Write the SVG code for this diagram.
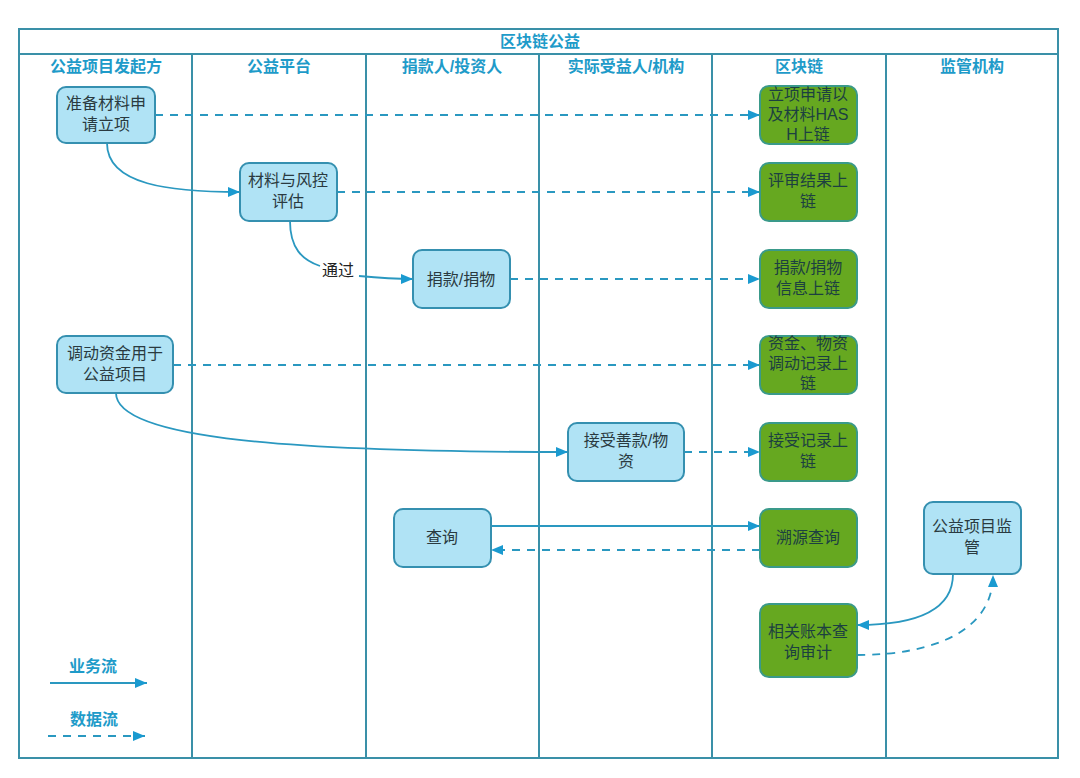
<svg xmlns="http://www.w3.org/2000/svg" width="1080" height="778" viewBox="0 0 1080 778">
<defs>
<style>
.frame{fill:none;stroke:#3a90a8;stroke-width:2}
.hdr{font-family:"Liberation Sans","Noto Sans CJK SC",sans-serif;font-size:16px;font-weight:bold;fill:#1e9bc9;text-anchor:middle}
.blue rect{fill:#b0e3f5;stroke:#3590b0;stroke-width:2}
.green rect{fill:#66a820;stroke:#3a9a8a;stroke-width:2}
.nt{font-family:"Liberation Sans","Noto Sans CJK SC",sans-serif;font-size:16px;text-anchor:middle}
.blue .nt{fill:#2a3a40}
.green .nt{fill:#1c4040}
.biz{fill:none;stroke:#2a98c0;stroke-width:1.8}
.data{fill:none;stroke:#2a98c0;stroke-width:1.8;stroke-dasharray:8,7}
.lbl{font-family:"Liberation Sans","Noto Sans CJK SC",sans-serif;font-size:16px;fill:#222;text-anchor:middle}
</style>
<marker id="ah" viewBox="0 0 12 10" refX="12" refY="5" markerWidth="12" markerHeight="10" markerUnits="userSpaceOnUse" orient="auto">
<path d="M0,0 L12,5 L0,10 z" fill="#1a9ad0"/>
</marker>
</defs>
<rect width="1080" height="778" fill="#ffffff"/>
<g id="lanes">
<rect class="frame" x="19" y="29" width="1039" height="729"/>
<line class="frame" x1="19" y1="54" x2="1058" y2="54"/>
<line class="frame" x1="192" y1="54" x2="192" y2="758"/>
<line class="frame" x1="366" y1="54" x2="366" y2="758"/>
<line class="frame" x1="539" y1="54" x2="539" y2="758"/>
<line class="frame" x1="712" y1="54" x2="712" y2="758"/>
<line class="frame" x1="886" y1="54" x2="886" y2="758"/>
<text class="hdr" x="540" y="47">区块链公益</text>
<text class="hdr" x="106" y="72">公益项目发起方</text>
<text class="hdr" x="279" y="72">公益平台</text>
<text class="hdr" x="452" y="72">捐款人/投资人</text>
<text class="hdr" x="626" y="72">实际受益人/机构</text>
<text class="hdr" x="799" y="72">区块链</text>
<text class="hdr" x="972" y="72">监管机构</text>
</g>
<g id="connectors">
<path class="data" d="M155,115 H760" marker-end="url(#ah)"/>
<path class="biz" d="M107,143 C107,185 170,192 240,192" marker-end="url(#ah)"/>
<path class="data" d="M337,192 H760" marker-end="url(#ah)"/>
<path class="biz" d="M290,221 C290,248 302,260 320,266"/>
<path class="biz" d="M359,276 C380,278 395,279 413,279" marker-end="url(#ah)"/>
<text class="lbl" x="338" y="276">通过</text>
<path class="data" d="M510,279 H760" marker-end="url(#ah)"/>
<path class="data" d="M173,365 H760" marker-end="url(#ah)"/>
<path class="biz" d="M116,393 C116,440 300,452 568,452" marker-end="url(#ah)"/>
<path class="data" d="M684,452 H760" marker-end="url(#ah)"/>
<path class="biz" d="M491,526 H760" marker-end="url(#ah)"/>
<path class="data" d="M760,550 H491" marker-end="url(#ah)"/>
<path class="biz" d="M953,574 C953,612 912,625 857,625" marker-end="url(#ah)"/>
<path class="data" d="M857,655 C935,655 993,630 993,575" marker-end="url(#ah)"/>
</g>
<g id="n_prepare" class="blue">
<rect x="57" y="87" width="98" height="56" rx="9"/>
<text class="nt" x="106" y="109">准备材料申</text>
<text class="nt" x="106" y="130">请立项</text>
</g>
<g id="n_review" class="blue">
<rect x="240" y="163" width="97" height="58" rx="9"/>
<text class="nt" x="288" y="186">材料与风控</text>
<text class="nt" x="288" y="207">评估</text>
</g>
<g id="n_donate" class="blue">
<rect x="413" y="250" width="97" height="58" rx="9"/>
<text class="nt" x="461" y="285">捐款/捐物</text>
</g>
<g id="n_allocate" class="blue">
<rect x="57" y="336" width="116" height="57" rx="9"/>
<text class="nt" x="115" y="359">调动资金用于</text>
<text class="nt" x="115" y="380">公益项目</text>
</g>
<g id="n_receive" class="blue">
<rect x="568" y="423" width="116" height="58" rx="9"/>
<text class="nt" x="626" y="446">接受善款/物</text>
<text class="nt" x="626" y="467">资</text>
</g>
<g id="n_query" class="blue">
<rect x="394" y="509" width="97" height="58" rx="9"/>
<text class="nt" x="442" y="543">查询</text>
</g>
<g id="n_supervise" class="blue">
<rect x="924" y="502" width="97" height="72" rx="9"/>
<text class="nt" x="972" y="532">公益项目监</text>
<text class="nt" x="972" y="553">管</text>
</g>
<g id="c_apply" class="green">
<rect x="760" y="86" width="97" height="58" rx="9"/>
<text class="nt" x="808" y="100">立项申请以</text>
<text class="nt" x="808" y="120">及材料HAS</text>
<text class="nt" x="808" y="140">H上链</text>
</g>
<g id="c_review" class="green">
<rect x="760" y="163" width="97" height="58" rx="9"/>
<text class="nt" x="808" y="186">评审结果上</text>
<text class="nt" x="808" y="207">链</text>
</g>
<g id="c_donate" class="green">
<rect x="760" y="250" width="97" height="58" rx="9"/>
<text class="nt" x="808" y="273">捐款/捐物</text>
<text class="nt" x="808" y="294">信息上链</text>
</g>
<g id="c_allocate" class="green">
<rect x="760" y="336" width="97" height="58" rx="9"/>
<text class="nt" x="808" y="349">资金、物资</text>
<text class="nt" x="808" y="369">调动记录上</text>
<text class="nt" x="808" y="389">链</text>
</g>
<g id="c_receive" class="green">
<rect x="760" y="423" width="97" height="58" rx="9"/>
<text class="nt" x="808" y="446">接受记录上</text>
<text class="nt" x="808" y="467">链</text>
</g>
<g id="c_trace" class="green">
<rect x="760" y="509" width="97" height="58" rx="9"/>
<text class="nt" x="808" y="543">溯源查询</text>
</g>
<g id="c_audit" class="green">
<rect x="760" y="604" width="97" height="73" rx="9"/>
<text class="nt" x="808" y="637">相关账本查</text>
<text class="nt" x="808" y="658">询审计</text>
</g>
<g id="legend">
<text class="hdr" x="93" y="672">业务流</text>
<path class="biz" d="M50,683 H147" marker-end="url(#ah)"/>
<text class="hdr" x="94" y="725">数据流</text>
<path class="data" d="M48,736 H145" marker-end="url(#ah)"/>
</g>
</svg>
